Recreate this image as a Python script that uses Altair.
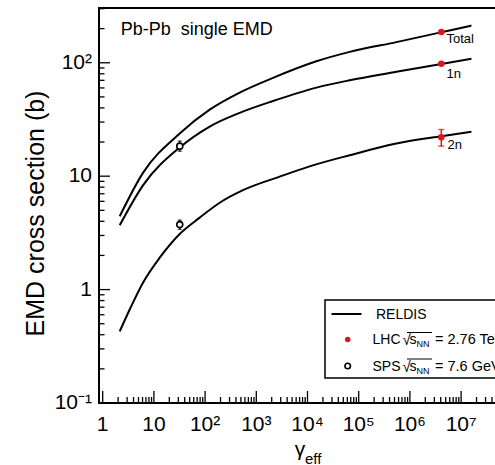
import altair as alt
import pandas as pd

FONT = "Liberation Sans"

# ---------------- data ----------------
gamma_total = [2.15, 6.12, 31.9, 123, 474, 2120, 14900, 66700, 545000, 4.12e6, 1.59e7]
sigma_total = [4.43, 10.7, 23.8, 38.6, 54.6, 73.6, 103.0, 124.7, 152.1, 185.8, 212.8]

gamma_1n = [2.15, 6.12, 31.9, 123, 474, 2120, 14900, 66700, 545000, 4.12e6, 1.59e7]
sigma_1n = [3.69, 8.30, 17.9, 27.4, 36.2, 46.0, 60.4, 70.1, 83.2, 97.7, 108.4]

gamma_2n = [2.15, 3.37, 6.12, 13.0, 31.9, 78.5, 193, 550, 2860, 11000, 66700,
            545000, 4.12e6, 1.59e7]
sigma_2n = [0.428, 0.667, 1.15, 1.91, 3.09, 4.31, 5.83, 7.52, 9.90, 12.2, 15.3,
            19.4, 22.5, 24.6]
series_names = ["Total", "1n", "2n"]

# LHC (filled red) measurement at sqrt(s_NN) = 2.76 TeV
lhc_gamma = [4.1e6, 4.1e6, 4.1e6]
lhc_sigma = [187.0, 98.0, 22.0]
lhc_err_gamma = [4.1e6]
lhc_err_lo = [18.4]
lhc_err_hi = [25.8]

# SPS (open) measurement at sqrt(s_NN) = 7.6 GeV
sps_gamma = [32, 32]
sps_sigma = [18.4, 3.74]
sps_lo = [16.6, 3.40]
sps_hi = [20.4, 4.10]

# axis ticks
x_major = [1, 10, 1e2, 1e3, 1e4, 1e5, 1e6, 1e7]
x_tick_labels = ["1", "10", "10²", "10³", "10⁴", "10⁵", "10⁶", "10⁷"]
y_major = [0.1, 1, 10, 100]
y_tick_labels = ["10⁻¹", "1", "10", "10²"]

X_MAX = 4.59e7
Y_MAX = 304
x_minor = [k * 10 ** d for d in range(0, 8) for k in range(2, 10) if k * 10 ** d < X_MAX]
y_minor = [k * 10.0 ** d for d in range(-1, 3) for k in range(2, 10) if k * 10.0 ** d < Y_MAX]

# ---------------- layout ----------------
W, H = 396, 395
PL, PT = 99, 8
RED = "#e2141b"

xs = alt.Scale(type="log", domain=[0.847, X_MAX], nice=False)
ys = alt.Scale(type="log", domain=[0.1, Y_MAX], nice=False)

one = pd.DataFrame({"a": [0]})

curves = pd.DataFrame({
    "gamma": gamma_total + gamma_1n + gamma_2n,
    "sigma": sigma_total + sigma_1n + sigma_2n,
    "series": ["Total"] * len(gamma_total) + ["1n"] * len(gamma_1n) + ["2n"] * len(gamma_2n),
})

lines = alt.Chart(curves).mark_line(color="black", strokeWidth=2, interpolate="monotone").encode(
    x=alt.X("gamma:Q", scale=xs, axis=None),
    y=alt.Y("sigma:Q", scale=ys, axis=None),
    detail="series:N",
)

# frame
frame_left = alt.Chart(one).mark_rule(color="black", strokeWidth=2, strokeCap="square").encode(
    x=alt.value(0), y=alt.value(0), y2=alt.value(H))
frame_top = alt.Chart(one).mark_rule(color="black", strokeWidth=2, strokeCap="square").encode(
    x=alt.value(0), x2=alt.value(W + 5), y=alt.value(0))
frame_bottom = alt.Chart(one).mark_rule(color="black", strokeWidth=2, strokeCap="square").encode(
    x=alt.value(0), x2=alt.value(W + 5), y=alt.value(H))

# inward ticks
xmaj = alt.Chart(pd.DataFrame({"v": x_major})).mark_rule(color="black", strokeWidth=1.3).encode(
    x=alt.X("v:Q", scale=xs, axis=None), y=alt.value(H), y2=alt.value(H - 12))
xmin = alt.Chart(pd.DataFrame({"v": x_minor})).mark_rule(color="black", strokeWidth=1.3).encode(
    x=alt.X("v:Q", scale=xs, axis=None), y=alt.value(H), y2=alt.value(H - 6))
ymaj = alt.Chart(pd.DataFrame({"v": y_major})).mark_rule(color="black", strokeWidth=1.3).encode(
    y=alt.Y("v:Q", scale=ys, axis=None), x=alt.value(0), x2=alt.value(11))
ymin = alt.Chart(pd.DataFrame({"v": y_minor})).mark_rule(color="black", strokeWidth=1.3).encode(
    y=alt.Y("v:Q", scale=ys, axis=None), x=alt.value(0), x2=alt.value(5.5))

# tick labels
xlab = alt.Chart(pd.DataFrame({"v": x_major, "label": x_tick_labels})).mark_text(
    font=FONT, fontSize=21, align="center", baseline="middle", color="black").encode(
    x=alt.X("v:Q", scale=xs, axis=None), y=alt.value(H + 22), text="label:N")
ylab = alt.Chart(pd.DataFrame({"v": y_major, "label": y_tick_labels})).mark_text(
    font=FONT, fontSize=21, align="right", baseline="middle", color="black").encode(
    y=alt.Y("v:Q", scale=ys, axis=None), x=alt.value(-7), text="label:N")

# LHC points
lhc_df = pd.DataFrame({"g": lhc_gamma, "s": lhc_sigma})
lhc_err = pd.DataFrame({"g": lhc_err_gamma, "lo": lhc_err_lo, "hi": lhc_err_hi})
lhc_bar = alt.Chart(lhc_err).mark_rule(color=RED, strokeWidth=1.5).encode(
    x=alt.X("g:Q", scale=xs, axis=None), y=alt.Y("lo:Q", scale=ys, axis=None), y2="hi:Q")
lhc_cap_lo = alt.Chart(lhc_err).mark_tick(color=RED, orient="horizontal", size=6, thickness=1.5).encode(
    x=alt.X("g:Q", scale=xs, axis=None), y=alt.Y("lo:Q", scale=ys, axis=None))
lhc_cap_hi = alt.Chart(lhc_err).mark_tick(color=RED, orient="horizontal", size=6, thickness=1.5).encode(
    x=alt.X("g:Q", scale=xs, axis=None), y=alt.Y("hi:Q", scale=ys, axis=None))
lhc_pts = alt.Chart(lhc_df).mark_point(shape="circle", filled=True, color=RED, size=42, opacity=1).encode(
    x=alt.X("g:Q", scale=xs, axis=None), y=alt.Y("s:Q", scale=ys, axis=None))

# SPS points
sps_df = pd.DataFrame({"g": sps_gamma, "s": sps_sigma, "lo": sps_lo, "hi": sps_hi})
sps_bar = alt.Chart(sps_df).mark_rule(color="black", strokeWidth=1.3).encode(
    x=alt.X("g:Q", scale=xs, axis=None), y=alt.Y("lo:Q", scale=ys, axis=None), y2="hi:Q")
sps_cap_lo = alt.Chart(sps_df).mark_tick(color="black", orient="horizontal", size=4, thickness=1.3).encode(
    x=alt.X("g:Q", scale=xs, axis=None), y=alt.Y("lo:Q", scale=ys, axis=None))
sps_cap_hi = alt.Chart(sps_df).mark_tick(color="black", orient="horizontal", size=4, thickness=1.3).encode(
    x=alt.X("g:Q", scale=xs, axis=None), y=alt.Y("hi:Q", scale=ys, axis=None))
sps_pts = alt.Chart(sps_df).mark_point(shape="circle", filled=True, fill="white", stroke="black",
                                       strokeWidth=1.6, size=36, opacity=1).encode(
    x=alt.X("g:Q", scale=xs, axis=None), y=alt.Y("s:Q", scale=ys, axis=None))


def txt(text, x, y, size, align="left", baseline="middle", angle=0, color="black"):
    kw = dict(text=text, font=FONT, fontSize=size, align=align, baseline=baseline, color=color)
    if angle:
        kw["angle"] = angle
    return alt.Chart(one).mark_text(**kw).encode(x=alt.value(x - PL), y=alt.value(y - PT))


def rule(x1, x2, y, width=1.0, color="black"):
    return alt.Chart(one).mark_rule(color=color, strokeWidth=width).encode(
        x=alt.value(x1 - PL), x2=alt.value(x2 - PL), y=alt.value(y - PT))


# legend
legend_box = alt.Chart(one).mark_rect(fill="white", stroke="black", strokeWidth=1.5).encode(
    x=alt.value(325 - PL), x2=alt.value(W + 30), y=alt.value(300 - PT), y2=alt.value(378 - PT))
leg_line = rule(331.5, 361.5, 314, width=2)
leg_red = alt.Chart(one).mark_point(shape="circle", filled=True, color=RED, size=30, opacity=1).encode(
    x=alt.value(347.7 - PL), y=alt.value(339.5 - PT))
leg_open = alt.Chart(one).mark_point(shape="circle", filled=True, fill="white", stroke="black",
                                     strokeWidth=1.6, size=30, opacity=1).encode(
    x=alt.value(347.7 - PL), y=alt.value(366 - PT))

layers = [
    xmin, xmaj, ymin, ymaj, xlab, ylab,
    lines,
    lhc_bar, lhc_cap_lo, lhc_cap_hi, lhc_pts,
    sps_bar, sps_cap_lo, sps_cap_hi, sps_pts,
    frame_left, frame_top, frame_bottom,
    legend_box, leg_line, leg_red, leg_open,
    txt("RELDIS", 376, 314.5, 14),
    txt("LHC", 372.5, 340, 14),
    txt("√", 402.5, 340, 15),
    txt("s", 409.5, 340, 14),
    txt("NN", 416.5, 344, 9),
    rule(407, 432, 332.5, width=1),
    txt("= 2.76 TeV", 435, 340, 14.5),
    txt("SPS", 372.5, 366.5, 14),
    txt("√", 402.5, 366.5, 15),
    txt("s", 409.5, 366.5, 14),
    txt("NN", 416.5, 370.5, 9),
    rule(407, 432, 359, width=1),
    txt("= 7.6 GeV", 435, 366.5, 14.5),
    # annotations
    txt("Pb-Pb\u00a0 single EMD", 120.7, 29.5, 18),
    txt("Total", 446.5, 39, 13),
    txt("1n", 446.5, 74, 13),
    txt("2n", 447.5, 144.5, 13),
    # axis titles
    txt("EMD cross section (b)", 36, 213.5, 25, align="center", angle=270),
    txt("γ", 300, 456, 21, align="center", baseline="alphabetic"),
    txt("eff", 305, 464, 15, baseline="alphabetic"),
]

chart = alt.layer(*layers).properties(
    width=W, height=H,
    padding={"left": PL, "top": PT, "right": 0, "bottom": 465 - PT - H},
    autosize=alt.AutoSizeParams(type="none"),
).configure_view(stroke=None).configure(background="white")

chart.save("out.html", embed_options={"renderer": "svg", "actions": False})
